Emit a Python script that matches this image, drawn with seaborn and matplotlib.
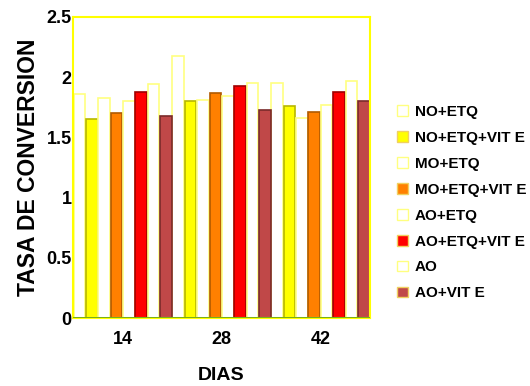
import pandas as pd
import seaborn as sns
import matplotlib.pyplot as plt

# datos
dias = ["14", "28", "42"]
tratamientos = ["NO+ETQ", "NO+ETQ+VIT E", "MO+ETQ", "MO+ETQ+VIT E",
                "AO+ETQ", "AO+ETQ+VIT E", "AO", "AO+VIT E"]
valores = {
    "NO+ETQ":       [1.86, 2.18, 1.95],
    "NO+ETQ+VIT E": [1.65, 1.80, 1.76],
    "MO+ETQ":       [1.83, 1.81, 1.66],
    "MO+ETQ+VIT E": [1.70, 1.87, 1.71],
    "AO+ETQ":       [1.80, 1.84, 1.77],
    "AO+ETQ+VIT E": [1.88, 1.93, 1.88],
    "AO":           [1.94, 1.95, 1.97],
    "AO+VIT E":     [1.68, 1.73, 1.80],
}
colores = ["white", "#FFFF00", "white", "#FF8000", "white", "#FF0000", "white", "#C04848"]
bordes = ["#FFFF80", "#B8B800", "#FFFF80", "#B05A00", "#FFFF80", "#A00000", "#FFFF80", "#7A2A2A"]

df = pd.DataFrame([(d, t, valores[t][i]) for t in tratamientos for i, d in enumerate(dias)],
                  columns=["dia", "trat", "tasa"])

sns.set_style("white")
plt.rcParams['font.family'] = ['Liberation Sans', 'DejaVu Sans']
plt.rcParams.update({"text.color": "black", "axes.labelcolor": "black",
                     "xtick.color": "black", "ytick.color": "black"})

fig = plt.figure(figsize=(5.3, 3.86), dpi=100)
ax = fig.add_axes([0.138, 0.176, 0.56, 0.78])

sns.barplot(data=df, x="dia", y="tasa", hue="trat", hue_order=tratamientos,
            palette=dict(zip(tratamientos, colores)), width=1, gap=0.06,
            saturation=1, errorbar=None, ax=ax, legend=False)

for cont, ec in zip(ax.containers, bordes):
    for bar in cont:
        bar.set_edgecolor(ec)
        bar.set_linewidth(1.2)

ax.axhline(0, color="#5E9E1E", lw=1.2, zorder=5)
ax.set_xlim(-0.5, 2.5)
ax.set_ylim(0, 2.5)
ax.set_yticks([0, 0.5, 1, 1.5, 2, 2.5])
ax.set_yticklabels(["0", "0.5", "1", "1.5", "2", "2.5"])
ax.tick_params(length=0, labelsize=13, pad=1)
ax.tick_params(axis="x", pad=9)
for lab in ax.get_xticklabels() + ax.get_yticklabels():
    lab.set_fontweight("bold")
for s in ax.spines.values():
    s.set_color("#FFFF00")
    s.set_linewidth(1.5)

ax.set_xlabel("DIAS", fontsize=14, fontweight="bold", labelpad=14)
ax.set_ylabel("TASA DE CONVERSION", fontsize=16.5, fontweight="bold", labelpad=5)

handles = [plt.Rectangle((0, 0), 1, 1, facecolor=c, edgecolor="#FFFF80" if c == "white" else "#F0D060", lw=1)
           for c in colores]
leg = fig.legend(handles, tratamientos, loc="upper left", bbox_to_anchor=(0.749, 0.728),
                 frameon=False, fontsize=11, handlelength=0.7, handleheight=0.7,
                 handletextpad=0.45, labelspacing=0.78, borderpad=0, borderaxespad=0)
for t in leg.get_texts():
    t.set_fontweight("bold")

plt.savefig("out.png", dpi=100)
